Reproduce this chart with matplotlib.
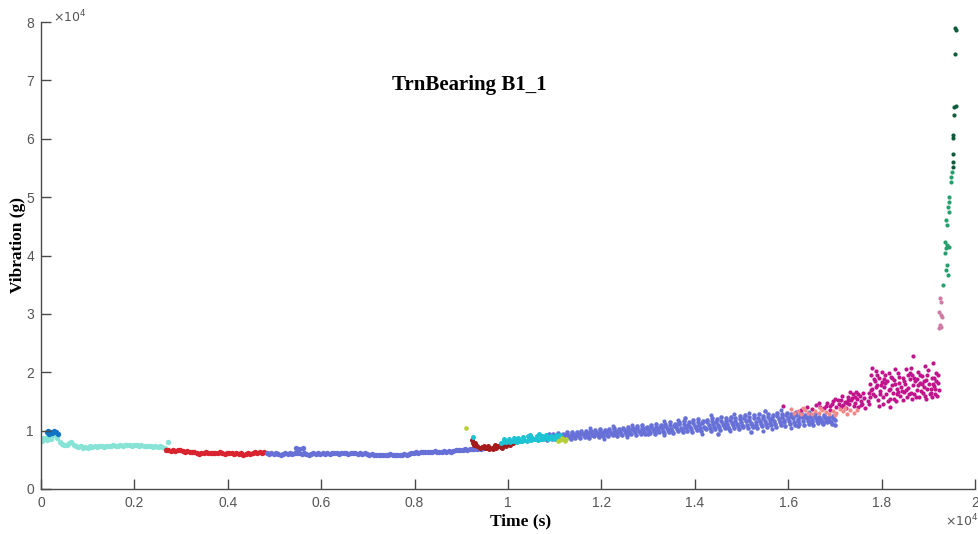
import matplotlib
matplotlib.use("Agg")
from matplotlib import pyplot as plt
import numpy as np

# values in units of 1e4 (time) and 1e4 (vibration)
dark_blue = [(0.012, 0.97), (0.016, 0.99), (0.020, 0.98), (0.024, 0.96), (0.028, 0.99),
             (0.032, 0.97), (0.036, 0.95), (0.018, 0.95), (0.026, 0.97)]

aqua = [(0.000, 0.86), (0.005, 0.88), (0.010, 0.87), (0.015, 0.90), (0.020, 0.89), (0.025, 0.92),
        (0.030, 0.93), (0.035, 0.88), (0.040, 0.80), (0.045, 0.77), (0.050, 0.75), (0.055, 0.76),
        (0.060, 0.79), (0.065, 0.80), (0.070, 0.76), (0.075, 0.74), (0.080, 0.72), (0.085, 0.73),
        (0.090, 0.71), (0.095, 0.72), (0.100, 0.71), (0.105, 0.73), (0.110, 0.72), (0.115, 0.73),
        (0.120, 0.72), (0.125, 0.74), (0.130, 0.73), (0.135, 0.72), (0.140, 0.74), (0.145, 0.73),
        (0.150, 0.74), (0.155, 0.75), (0.160, 0.73), (0.165, 0.74), (0.170, 0.75), (0.175, 0.74),
        (0.180, 0.76), (0.185, 0.75), (0.190, 0.76), (0.195, 0.74), (0.200, 0.75), (0.205, 0.76),
        (0.210, 0.74), (0.215, 0.75), (0.220, 0.74), (0.225, 0.73), (0.230, 0.74), (0.235, 0.73),
        (0.240, 0.72), (0.245, 0.73), (0.250, 0.72), (0.255, 0.73), (0.260, 0.72), (0.265, 0.71),
        (0.272, 0.81), (0.002, 0.83), (0.012, 0.84), (0.022, 0.86)]

red = [(0.268, 0.67), (0.273, 0.66), (0.278, 0.65), (0.283, 0.66), (0.288, 0.65), (0.293, 0.66),
       (0.298, 0.67), (0.303, 0.65), (0.308, 0.64), (0.313, 0.65), (0.318, 0.64), (0.323, 0.63),
       (0.328, 0.64), (0.333, 0.62), (0.338, 0.60), (0.343, 0.61), (0.348, 0.62), (0.353, 0.63),
       (0.358, 0.62), (0.363, 0.61), (0.368, 0.62), (0.373, 0.61), (0.378, 0.62), (0.383, 0.63),
       (0.388, 0.61), (0.393, 0.60), (0.398, 0.61), (0.403, 0.62), (0.408, 0.61), (0.413, 0.60),
       (0.418, 0.61), (0.423, 0.60), (0.428, 0.61), (0.433, 0.59), (0.438, 0.60), (0.443, 0.61),
       (0.448, 0.60), (0.453, 0.62), (0.458, 0.63), (0.463, 0.62), (0.468, 0.64), (0.473, 0.62),
       (0.478, 0.63)]

slate_early = [(0.483, 0.61), (0.488, 0.60), (0.493, 0.61), (0.498, 0.60), (0.503, 0.61), (0.508, 0.60),
               (0.513, 0.59), (0.518, 0.60), (0.523, 0.61), (0.528, 0.60), (0.533, 0.61), (0.538, 0.60),
               (0.543, 0.61), (0.548, 0.62), (0.553, 0.61), (0.558, 0.60), (0.563, 0.61), (0.568, 0.60),
               (0.573, 0.59), (0.578, 0.60), (0.583, 0.61), (0.588, 0.60), (0.593, 0.61), (0.598, 0.60),
               (0.603, 0.61), (0.608, 0.60), (0.613, 0.61), (0.618, 0.60), (0.623, 0.61), (0.628, 0.62),
               (0.633, 0.61), (0.638, 0.60), (0.643, 0.61), (0.648, 0.62), (0.653, 0.61), (0.658, 0.60),
               (0.663, 0.61), (0.668, 0.62), (0.673, 0.61), (0.678, 0.60), (0.683, 0.61), (0.688, 0.60),
               (0.693, 0.61), (0.698, 0.60), (0.703, 0.59), (0.708, 0.60), (0.713, 0.59), (0.718, 0.58),
               (0.723, 0.59), (0.728, 0.58), (0.733, 0.59), (0.738, 0.58), (0.743, 0.59), (0.748, 0.60),
               (0.753, 0.59), (0.758, 0.58), (0.763, 0.59), (0.768, 0.58), (0.773, 0.59), (0.778, 0.60),
               (0.783, 0.59), (0.788, 0.60), (0.793, 0.61), (0.798, 0.62), (0.803, 0.63), (0.808, 0.62),
               (0.813, 0.63), (0.818, 0.64), (0.823, 0.63), (0.828, 0.64), (0.833, 0.63), (0.838, 0.64),
               (0.843, 0.65), (0.848, 0.64), (0.853, 0.63), (0.858, 0.64), (0.863, 0.65), (0.868, 0.64),
               (0.873, 0.65), (0.878, 0.64), (0.883, 0.65), (0.888, 0.66), (0.893, 0.67), (0.898, 0.66),
               (0.903, 0.67), (0.908, 0.68), (0.913, 0.67), (0.918, 0.68), (0.923, 0.69), (0.928, 0.68),
               (0.933, 0.69), (0.938, 0.70), (0.943, 0.69), (0.948, 0.70),
               (0.545, 0.71), (0.552, 0.69), (0.562, 0.70)]

dark_red = [(0.923, 0.84), (0.925, 0.79), (0.928, 0.76), (0.930, 0.78), (0.933, 0.74), (0.940, 0.71),
            (0.945, 0.72), (0.950, 0.70), (0.955, 0.71), (0.960, 0.69), (0.965, 0.71), (0.970, 0.72),
            (0.975, 0.70), (0.980, 0.73), (0.985, 0.72), (0.990, 0.75), (0.995, 0.74), (1.000, 0.77),
            (1.005, 0.76), (1.010, 0.78), (0.958, 0.73), (0.968, 0.68), (0.978, 0.74), (0.988, 0.71),
            (0.998, 0.78), (0.948, 0.73), (0.972, 0.75)]

cyan = [(0.985, 0.79), (0.990, 0.81), (0.995, 0.80), (1.000, 0.82), (1.005, 0.81), (1.010, 0.83),
        (1.015, 0.82), (1.020, 0.81), (1.025, 0.83), (1.030, 0.82), (1.035, 0.84), (1.040, 0.83),
        (1.045, 0.85), (1.050, 0.84), (1.055, 0.86), (1.060, 0.85), (1.065, 0.84), (1.070, 0.86),
        (1.075, 0.85), (1.080, 0.87), (1.085, 0.86), (1.090, 0.88), (1.095, 0.87), (1.100, 0.86),
        (1.105, 0.88), (1.110, 0.87),
        (0.992, 0.85), (1.002, 0.86), (1.012, 0.88), (1.022, 0.87), (1.032, 0.89), (1.042, 0.90),
        (1.052, 0.88), (1.062, 0.91), (1.072, 0.90), (1.082, 0.92), (1.092, 0.91), (1.102, 0.93),
        (1.112, 0.92), (1.047, 0.93), (1.067, 0.94), (0.925, 0.89)]

yellow_green = [(0.909, 1.05), (1.112, 0.84), (1.118, 0.86), (1.122, 0.83), (1.115, 0.88),
                (1.125, 0.85), (1.108, 0.82)]

slate_mid = [(1.08, 0.88), (1.09, 0.90), (1.10, 0.89), (1.11, 0.91), (1.12, 0.92), (1.13, 0.91),
             (1.14, 0.93), (1.15, 0.92), (1.16, 0.94), (1.17, 0.95), (1.18, 0.93), (1.19, 0.96),
             (1.20, 0.95), (1.21, 0.97), (1.22, 0.96), (1.23, 0.98), (1.24, 0.97), (1.25, 0.99),
             (1.26, 0.98), (1.27, 1.01), (1.28, 1.00), (1.29, 1.02), (1.30, 1.01), (1.31, 1.03),
             (1.32, 1.02), (1.33, 1.04), (1.34, 1.05), (1.35, 1.03), (1.36, 1.06), (1.37, 1.05),
             (1.38, 1.07), (1.39, 1.06), (1.40, 1.08), (1.41, 1.10), (1.42, 1.07), (1.43, 1.09),
             (1.44, 1.11), (1.45, 1.10), (1.46, 1.12), (1.47, 1.11), (1.48, 1.13), (1.49, 1.12),
             (1.50, 1.14), (1.51, 1.16), (1.52, 1.13), (1.53, 1.15), (1.54, 1.17), (1.55, 1.16),
             (1.56, 1.18), (1.57, 1.17), (1.58, 1.20), (1.59, 1.19), (1.60, 1.21), (1.61, 1.22),
             (1.62, 1.20), (1.63, 1.23), (1.64, 1.21), (1.65, 1.19), (1.66, 1.22), (1.67, 1.18),
             (1.68, 1.20), (1.69, 1.17), (1.70, 1.19)]

slate_low = [(1.084, 0.84), (1.094, 0.85), (1.104, 0.86), (1.114, 0.85), (1.124, 0.87), (1.134, 0.86),
             (1.144, 0.88), (1.154, 0.87), (1.164, 0.89), (1.174, 0.88), (1.184, 0.90), (1.194, 0.89),
             (1.204, 0.91), (1.214, 0.90), (1.224, 0.92), (1.234, 0.91), (1.244, 0.93), (1.254, 0.92),
             (1.264, 0.94), (1.274, 0.93), (1.284, 0.95), (1.294, 0.94), (1.304, 0.96), (1.314, 0.95),
             (1.324, 0.97), (1.334, 0.96), (1.344, 0.98), (1.354, 0.96), (1.364, 0.99), (1.374, 0.97),
             (1.384, 1.00), (1.394, 0.98), (1.404, 1.01), (1.414, 0.99), (1.424, 1.02), (1.434, 1.00),
             (1.444, 1.03), (1.454, 1.01), (1.464, 1.04), (1.474, 1.02), (1.484, 1.05), (1.494, 1.03),
             (1.504, 1.06), (1.514, 1.04), (1.524, 1.07), (1.534, 1.05), (1.544, 1.08), (1.554, 1.06),
             (1.564, 1.09), (1.574, 1.07), (1.584, 1.10), (1.594, 1.08), (1.604, 1.11), (1.614, 1.09),
             (1.624, 1.12), (1.634, 1.10), (1.644, 1.12), (1.654, 1.10), (1.664, 1.13), (1.674, 1.11),
             (1.684, 1.14), (1.694, 1.12)]

slate_high = [(1.087, 0.94), (1.097, 0.95), (1.107, 0.96), (1.117, 0.95), (1.127, 0.97), (1.137, 0.98),
              (1.147, 0.97), (1.157, 0.99), (1.167, 1.00), (1.177, 0.99), (1.187, 1.01), (1.197, 1.02),
              (1.207, 1.01), (1.217, 1.03), (1.227, 1.04), (1.237, 1.03), (1.247, 1.05), (1.257, 1.06),
              (1.267, 1.05), (1.277, 1.08), (1.287, 1.09), (1.297, 1.07), (1.307, 1.10), (1.317, 1.11),
              (1.327, 1.09), (1.337, 1.12), (1.347, 1.14), (1.357, 1.12), (1.367, 1.15), (1.377, 1.17),
              (1.387, 1.14), (1.397, 1.18), (1.407, 1.20), (1.417, 1.17), (1.427, 1.19), (1.437, 1.22),
              (1.447, 1.20), (1.457, 1.23), (1.467, 1.21), (1.477, 1.24), (1.487, 1.22), (1.497, 1.25),
              (1.507, 1.27), (1.517, 1.24), (1.527, 1.26), (1.537, 1.28), (1.547, 1.25), (1.557, 1.29),
              (1.567, 1.27), (1.577, 1.30), (1.587, 1.28), (1.597, 1.31), (1.607, 1.29), (1.617, 1.32),
              (1.627, 1.30), (1.637, 1.27), (1.647, 1.25), (1.657, 1.28), (1.667, 1.24), (1.677, 1.26),
              (1.687, 1.23), (1.697, 1.25),
              (1.52, 0.98), (1.45, 0.95), (1.30, 0.94), (1.62, 1.08), (1.70, 1.09), (1.38, 1.22),
              (1.55, 1.33)]

slate_fill_a = [(1.082, 0.86), (1.092, 0.88), (1.102, 0.87), (1.112, 0.88), (1.122, 0.90), (1.132, 0.89),
                (1.142, 0.90), (1.152, 0.91), (1.162, 0.92), (1.172, 0.91), (1.182, 0.92), (1.192, 0.93),
                (1.202, 0.94), (1.212, 0.93), (1.222, 0.94), (1.232, 0.95), (1.242, 0.95), (1.252, 0.96),
                (1.262, 0.96), (1.272, 0.97), (1.282, 0.98), (1.292, 0.97), (1.302, 0.99), (1.312, 0.99),
                (1.322, 1.00), (1.332, 1.00), (1.342, 1.01), (1.352, 1.00), (1.362, 1.03), (1.372, 1.01),
                (1.382, 1.04), (1.392, 1.02), (1.402, 1.05), (1.412, 1.04), (1.422, 1.05), (1.432, 1.04),
                (1.442, 1.07), (1.452, 1.06), (1.462, 1.08), (1.472, 1.06), (1.482, 1.09), (1.492, 1.08),
                (1.502, 1.10), (1.512, 1.09), (1.522, 1.10), (1.532, 1.10), (1.542, 1.12), (1.552, 1.11),
                (1.562, 1.13), (1.572, 1.12), (1.582, 1.15), (1.592, 1.14), (1.602, 1.16), (1.612, 1.15),
                (1.622, 1.16), (1.632, 1.16), (1.642, 1.17), (1.652, 1.14), (1.662, 1.17), (1.672, 1.15),
                (1.682, 1.17), (1.692, 1.14)]

slate_fill_b = [(1.086, 0.91), (1.096, 0.93), (1.106, 0.92), (1.116, 0.93), (1.126, 0.95), (1.136, 0.94),
                (1.146, 0.95), (1.156, 0.96), (1.166, 0.97), (1.176, 0.97), (1.186, 0.98), (1.196, 0.99),
                (1.206, 0.98), (1.216, 1.00), (1.226, 1.01), (1.236, 1.00), (1.246, 1.02), (1.256, 1.03),
                (1.266, 1.02), (1.276, 1.05), (1.286, 1.05), (1.296, 1.04), (1.306, 1.06), (1.316, 1.07),
                (1.326, 1.06), (1.336, 1.08), (1.346, 1.10), (1.356, 1.08), (1.366, 1.11), (1.376, 1.11),
                (1.386, 1.10), (1.396, 1.13), (1.406, 1.14), (1.416, 1.13), (1.426, 1.14), (1.436, 1.16),
                (1.446, 1.15), (1.456, 1.17), (1.466, 1.16), (1.476, 1.19), (1.486, 1.17), (1.496, 1.20),
                (1.506, 1.21), (1.516, 1.19), (1.526, 1.21), (1.536, 1.22), (1.546, 1.21), (1.556, 1.24),
                (1.566, 1.22), (1.576, 1.25), (1.586, 1.24), (1.596, 1.26), (1.606, 1.25), (1.616, 1.27),
                (1.626, 1.25), (1.636, 1.24), (1.646, 1.23), (1.656, 1.25), (1.666, 1.21), (1.676, 1.23),
                (1.686, 1.21), (1.696, 1.22)]

slate_outer = [(1.205, 0.86), (1.255, 0.89), (1.335, 0.92), (1.365, 1.19), (1.415, 0.95), (1.435, 1.26),
               (1.475, 0.99), (1.515, 1.31), (1.565, 1.02), (1.585, 1.35), (1.605, 1.05), (1.645, 1.32),
               (1.335, 1.16), (1.265, 1.10), (1.225, 1.08), (1.175, 1.04), (1.485, 1.28), (1.545, 1.00)]

salmon = [(1.605, 1.37), (1.612, 1.30), (1.620, 1.33), (1.628, 1.28), (1.635, 1.35), (1.642, 1.31),
          (1.650, 1.29), (1.657, 1.34), (1.665, 1.30), (1.672, 1.36), (1.680, 1.32), (1.687, 1.28),
          (1.695, 1.34), (1.702, 1.31), (1.710, 1.37), (1.717, 1.33), (1.725, 1.29), (1.732, 1.35),
          (1.740, 1.31), (1.747, 1.36), (1.632, 1.39), (1.668, 1.38), (1.700, 1.27), (1.722, 1.39)]

magenta = [(1.588, 1.43), (1.628, 1.36), (1.640, 1.40), (1.652, 1.37), (1.660, 1.44), (1.668, 1.41),
           (1.676, 1.39), (1.683, 1.47), (1.690, 1.43), (1.697, 1.50), (1.703, 1.40), (1.708, 1.46),
           (1.713, 1.53), (1.718, 1.44), (1.722, 1.49), (1.727, 1.58), (1.731, 1.45), (1.735, 1.52),
           (1.739, 1.62), (1.743, 1.48), (1.747, 1.55), (1.750, 1.41), (1.753, 1.60), (1.756, 1.50),
           (1.759, 1.45), (1.762, 1.56), (1.765, 1.38), (1.741, 1.42), (1.733, 1.66), (1.724, 1.38),
           (1.716, 1.60), (1.700, 1.55), (1.690, 1.36), (1.745, 1.67),
           (1.772, 1.65), (1.775, 1.80), (1.778, 1.95), (1.780, 1.72), (1.783, 1.88), (1.785, 1.60),
           (1.788, 2.02), (1.790, 1.78), (1.792, 1.52), (1.795, 1.90), (1.797, 1.68), (1.800, 1.83),
           (1.802, 1.45), (1.805, 1.75), (1.807, 1.96), (1.810, 1.62), (1.812, 1.85), (1.815, 1.70),
           (1.817, 1.55), (1.820, 1.92), (1.822, 1.78), (1.825, 1.64), (1.827, 1.87), (1.830, 1.50),
           (1.832, 1.72), (1.835, 1.98), (1.837, 1.82), (1.840, 1.60), (1.842, 1.75), (1.845, 1.90),
           (1.847, 1.67), (1.850, 1.80), (1.852, 2.05), (1.855, 1.58), (1.857, 1.73), (1.860, 1.88),
           (1.862, 1.65), (1.865, 1.95), (1.867, 2.27), (1.868, 1.78), (1.870, 1.62), (1.872, 1.85),
           (1.875, 1.70), (1.877, 2.00), (1.880, 1.57), (1.882, 1.82), (1.885, 1.68), (1.887, 1.93),
           (1.890, 1.75), (1.892, 1.60), (1.895, 1.87), (1.897, 1.72), (1.900, 2.03), (1.902, 1.80),
           (1.905, 1.65), (1.907, 1.90), (1.910, 2.16), (1.912, 1.77), (1.915, 1.62), (1.917, 1.85),
           (1.920, 1.95), (1.922, 1.70), (1.776, 1.58), (1.786, 1.85), (1.796, 1.62), (1.806, 1.88),
           (1.816, 1.98), (1.826, 1.55), (1.836, 1.66), (1.846, 1.52), (1.856, 1.95), (1.866, 1.55),
           (1.876, 1.88), (1.886, 1.80), (1.896, 1.55), (1.906, 1.72), (1.916, 1.98), (1.774, 1.45),
           (1.794, 1.42), (1.818, 1.40), (1.779, 2.08), (1.801, 2.00), (1.828, 2.05), (1.863, 2.08),
           (1.893, 2.10), (1.913, 1.90), (1.908, 1.58),
           (1.771, 1.50), (1.777, 1.70), (1.782, 1.62), (1.787, 1.75), (1.791, 1.95), (1.798, 1.78),
           (1.803, 1.58), (1.808, 1.82), (1.813, 1.50), (1.819, 1.72), (1.823, 1.90), (1.829, 1.80),
           (1.833, 1.62), (1.838, 1.92), (1.843, 1.68), (1.848, 1.85), (1.853, 1.70), (1.858, 1.62),
           (1.861, 1.98), (1.869, 1.90), (1.873, 1.58), (1.878, 1.78), (1.883, 1.95), (1.888, 1.65),
           (1.891, 1.85), (1.898, 1.95), (1.903, 1.62), (1.909, 1.80), (1.914, 1.72), (1.918, 1.60),
           (1.921, 1.82), (1.706, 1.52), (1.712, 1.40), (1.726, 1.47), (1.737, 1.56), (1.749, 1.63),
           (1.755, 1.44), (1.761, 1.65), (1.744, 1.58), (1.729, 1.52), (1.694, 1.46), (1.680, 1.42),
           (1.665, 1.47)]

mauve = [(1.925, 3.27), (1.927, 3.21), (1.923, 3.04), (1.927, 2.98), (1.929, 2.95), (1.925, 2.81),
         (1.923, 2.75), (1.927, 2.77)]

green = [(1.931, 3.50), (1.943, 3.66), (1.938, 3.75), (1.941, 3.84), (1.936, 4.04), (1.938, 4.12),
         (1.941, 4.18), (1.944, 4.15), (1.936, 4.23), (1.941, 4.52), (1.938, 4.61), (1.945, 4.75),
         (1.943, 4.83), (1.945, 4.92), (1.945, 5.00), (1.948, 5.26), (1.948, 5.35), (1.950, 5.43)]

dark_green = [(1.953, 5.52), (1.953, 5.60), (1.952, 5.74), (1.952, 6.06), (1.953, 6.02), (1.955, 6.40),
              (1.955, 6.55), (1.959, 6.56), (1.958, 7.46), (1.957, 7.89), (1.959, 7.87)]

slate = "#6670d6"
clusters = [
    (aqua, "#86e3d6", 15), (dark_blue, "#1273c4", 15), (red, "#d9232e", 15),
    (slate_early, slate, 15),
    (slate_mid, slate, 11), (slate_low, slate, 11), (slate_high, slate, 11),
    (slate_fill_a, slate, 11), (slate_fill_b, slate, 11), (slate_outer, slate, 9),
    (dark_red, "#a51b1b", 13), (cyan, "#1cc3d3", 13), (yellow_green, "#b5cf35", 11),
    (magenta, "#c0138c", 9), (salmon, "#f28a8a", 9), (mauve, "#cf7ba3", 9),
    (green, "#25a06c", 9), (dark_green, "#0f5c3d", 9),
]

fig = plt.figure(figsize=(9.79, 5.34), dpi=100)
ax = fig.add_axes([41 / 979, 45 / 534, 934 / 979, 467 / 534])

for pts, col, size in clusters:
    arr = np.array(pts)
    ax.scatter(arr[:, 0], arr[:, 1], s=size, color=col, linewidths=0)

ax.set_xlim(0, 2)
ax.set_ylim(0, 8)
ax.set_xticks([0, 0.2, 0.4, 0.6, 0.8, 1, 1.2, 1.4, 1.6, 1.8, 2])
ax.set_xticklabels(["0", "0.2", "0.4", "0.6", "0.8", "1", "1.2", "1.4", "1.6", "1.8", "2"])
ax.set_yticks(range(9))

grey = "#4a4a4a"
for side in ["top", "right"]:
    ax.spines[side].set_visible(False)
for side in ["left", "bottom"]:
    ax.spines[side].set_color(grey)
    ax.spines[side].set_linewidth(1.0)
ax.tick_params(direction="in", length=7, width=1, color=grey, labelcolor="#555555",
               labelsize=10, pad=5)
for lab in ax.get_xticklabels() + ax.get_yticklabels():
    lab.set_family("Liberation Sans")

ax.text(0.459, 0.865, "TrnBearing B1_1", transform=ax.transAxes, ha="center", va="center",
        fontsize=15, fontweight="bold", family="Liberation Serif")
fig.text(521 / 979, 1 - 521 / 534, "Time (s)", ha="center", va="center",
         fontsize=12.5, fontweight="bold", family="Liberation Serif")
fig.text(18 / 979, 1 - 245 / 534, "Vibration (g)", ha="center", va="center", rotation=90,
         fontsize=12.5, fontweight="bold", family="Liberation Serif")

fig.text(53 / 979, 1 - 17 / 534, r"$\times10^{4}$", ha="left", va="center",
         fontsize=9, color="#555555", family="Liberation Sans")
fig.text(945 / 979, 1 - 521 / 534, r"$\times10^{4}$", ha="left", va="center",
         fontsize=9, color="#555555", family="Liberation Sans")

fig.savefig("out.png", dpi=100)
